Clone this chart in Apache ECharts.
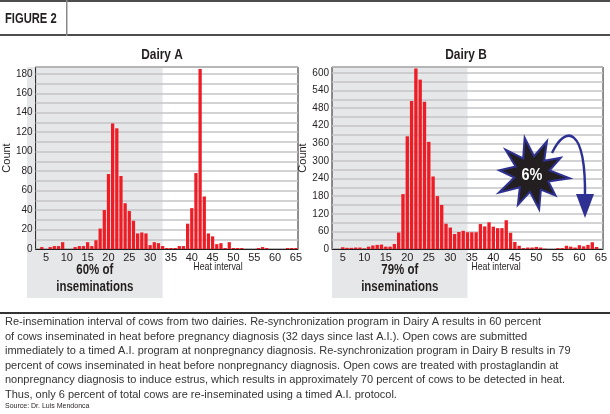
<!DOCTYPE html>
<html>
<head>
<meta charset="utf-8">
<script src="https://cdn.jsdelivr.net/npm/echarts@6/dist/echarts.min.js"></script>
<style>
html, body { margin: 0; padding: 0; background: #fff; }
#main { width: 610px; height: 414px; }
</style>
</head>
<body>
<div id="main"></div>
<script>
// heat interval (days) categories
var heatDays = ['3','4','5','6','7','8','9','10','11','12','13','14','15','16','17','18','19','20',
  '21','22','23','24','25','26','27','28','29','30','31','32','33','34','35','36','37','38','39','40',
  '41','42','43','44','45','46','47','48','49','50','51','52','53','54','55','56','57','58','59','60',
  '61','62','63','64','65'];

var dairyA = [0,2,0,2,3,3,7,0,0,2,3,3,7,3,9,21,40,77,
  129,124,75,47,39,29,16,17,16,4,7,6,3,1,1,1,3,3,26,42,
  78,185,54,16,13,5,6,1,7,1,1,1,0,0,0,1,2,1,0,0,
  0,0,1,1,1];

var dairyB = [0,0,6,4,4,5,5,2,8,12,14,15,8,8,17,56,187,384,
  504,615,577,502,365,247,180,150,86,73,51,58,62,57,57,57,85,77,91,76,
  71,71,98,55,24,11,3,5,5,7,5,1,0,0,3,3,11,8,5,13,
  9,14,23,7,0];

var xTicks = [5,10,15,20,25,30,35,40,45,50,55,60,65];
var yTicksA = [0,20,40,60,80,100,120,140,160,180];
var yTicksB = [0,60,120,180,240,300,360,420,480,540,600];

var captionLines = [
  'Re-insemination interval of cows from two dairies. Re-synchronization program in Dairy A results in 60 percent',
  'of cows inseminated in heat before pregnancy diagnosis (32 days since last A.I.). Open cows are submitted',
  'immediately to a timed A.I. program at nonpregnancy diagnosis. Re-synchronization program in Dairy B results in 79',
  'percent of cows inseminated in heat before nonpregnancy diagnosis. Open cows are treated with prostaglandin at',
  'nonpregnancy diagnosis to induce estrus, which results in approximately 70 percent of cows to be detected in heat.',
  'Thus, only 6 percent of total cows are re-inseminated using a timed A.I. protocol.'
];

var sans = '"Liberation Sans", Arial, sans-serif';
var ink = '#231f20';

function xAxisCfg(idx) {
  return {
    type: 'category',
    gridIndex: idx,
    data: heatDays,
    axisTick: { show: false },
    axisLine: { lineStyle: { color: ink, width: 1 } },
    axisLabel: {
      interval: function (i, v) { return xTicks.indexOf(+v) >= 0; },
      color: ink, fontFamily: sans, fontSize: 11, margin: 3
    },
    splitLine: { show: false }
  };
}

function yAxisCfg(idx, max, step, ticks, gap) {
  return {
    type: 'value',
    gridIndex: idx,
    min: 0, max: max, interval: step,
    name: 'Count',
    nameLocation: 'middle',
    nameGap: gap,
    nameTextStyle: { color: ink, fontFamily: sans, fontSize: 11 },
    axisLine: { show: false },
    axisTick: { show: false },
    axisLabel: {
      color: ink, fontFamily: sans, fontSize: 10, margin: 3,
      formatter: function (v) { return ticks.indexOf(v) >= 0 ? v : ''; }
    },
    splitLine: { lineStyle: { color: '#c4c5c7', width: 1.5 } }
  };
}

var myChart = echarts.init(document.getElementById('main'));

var option = {
  animation: false,
  grid: [
    { left: 27, top: 67, width: 271, height: 182, show: true, borderColor: ink, borderWidth: 1, backgroundColor: 'transparent' },
    { left: 332, top: 67, width: 272, height: 182, show: true, borderColor: ink, borderWidth: 1, backgroundColor: 'transparent' }
  ],
  xAxis: [xAxisCfg(0), xAxisCfg(1)],
  yAxis: [yAxisCfg(0, 187, 10, yTicksA, 21), yAxisCfg(1, 620, 30, yTicksB, 22)],
  series: [
    { type: 'bar', xAxisIndex: 0, yAxisIndex: 0, data: dairyA, barCategoryGap: '22%',
      itemStyle: { color: '#ee1c25' } },
    { type: 'bar', xAxisIndex: 1, yAxisIndex: 1, data: dairyB, barCategoryGap: '22%',
      itemStyle: { color: '#ee1c25' } }
  ]
};

myChart.setOption(option);

// shaded "in heat before diagnosis" zones
var shadeA = myChart.convertToPixel({ xAxisIndex: 0 }, '33');
var shadeB = myChart.convertToPixel({ xAxisIndex: 1 }, '34');

// 6% starburst
var starCx = 532, starCy = 174;
var outer = [37, 36, 33, 38, 32, 36, 34, 38, 33, 36];
var starPts = [];
for (var i = 0; i < 20; i++) {
  var a = -Math.PI / 2 - 0.2 + i * Math.PI / 10;
  var r = i % 2 === 0 ? outer[i / 2] : 18;
  starPts.push([starCx + r * Math.cos(a), starCy + r * Math.sin(a)]);
}

function label(x, y, text, size, opts) {
  opts = opts || {};
  return {
    type: 'text', x: x, y: y, z: opts.z || 10, scaleX: opts.sx || 1,
    style: { text: text, fontSize: size, fontFamily: sans, fontWeight: opts.bold ? 'bold' : 'normal',
      fill: opts.fill || ink, lineHeight: opts.lh,
      textAlign: opts.align || 'left', textVerticalAlign: 'middle' }
  };
}

var graphics = [
  // header
  { type: 'rect', shape: { x: 0, y: 0, width: 610, height: 2 }, style: { fill: '#4d4d4d' } },
  { type: 'rect', shape: { x: 0, y: 34, width: 610, height: 2 }, style: { fill: '#4d4d4d' } },
  { type: 'rect', shape: { x: 66, y: 0, width: 1.5, height: 36 }, style: { fill: '#8a8a8a' } },
  label(5, 19, 'FIGURE 2', 14, { bold: true, sx: 0.8 }),

  // panel titles
  label(162, 55, 'Dairy A', 14, { bold: true, align: 'center', sx: 0.85 }),
  label(466, 55, 'Dairy B', 14, { bold: true, align: 'center', sx: 0.85 }),

  // shaded boxes
  { type: 'rect', z: -10, shape: { x: 27, y: 67, width: shadeA - 27, height: 231 }, style: { fill: '#e6e7e8' } },
  { type: 'rect', z: -10, shape: { x: 332, y: 67, width: shadeB - 332, height: 231 }, style: { fill: '#e6e7e8' } },
  label((27 + shadeA) / 2, 279, '60% of\ninseminations', 14, { bold: true, align: 'center', sx: 0.82, lh: 17 }),
  label((332 + shadeB) / 2, 279, '79% of\ninseminations', 14, { bold: true, align: 'center', sx: 0.82, lh: 17 }),

  // x axis titles
  label(218, 267, 'Heat interval', 11, { align: 'center', sx: 0.8 }),
  label(496, 267, 'Heat interval', 11, { align: 'center', sx: 0.8 }),

  // annotation
  { type: 'polygon', z: 20, shape: { points: starPts }, style: { fill: '#231f20', stroke: '#2e3192', lineWidth: 2 } },
  label(starCx, starCy + 1, '6%', 17, { bold: true, align: 'center', fill: '#fff', z: 21, sx: 0.85 }),
  { type: 'bezierCurve', z: 20, shape: { x1: 552, y1: 153, cpx1: 565, cpy1: 125, cpx2: 586, cpy2: 125, x2: 585, y2: 198 },
    style: { stroke: '#2e3192', lineWidth: 2.5, fill: null } },
  { type: 'polygon', z: 20, shape: { points: [[576, 194], [594, 194], [585, 218]] }, style: { fill: '#2e3192' } },

  // caption
  { type: 'rect', shape: { x: 0, y: 312, width: 610, height: 2 }, style: { fill: '#333' } },
  label(5, 406, 'Source: Dr. Luis Mendonca', 7)
];

captionLines.forEach(function (line, i) {
  graphics.push(label(5, 322 + i * 14.5, line, 11, { fill: '#333' }));
});

myChart.setOption({ graphic: graphics });
</script>
</body>
</html>
